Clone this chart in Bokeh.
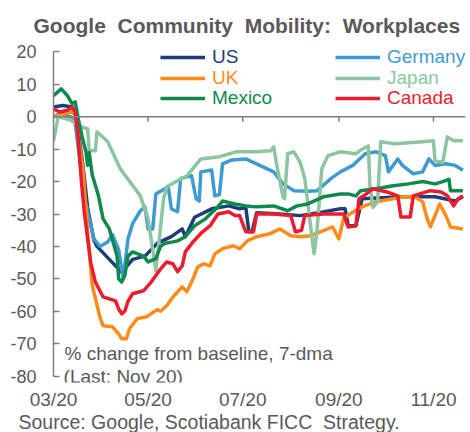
import pandas as pd
from bokeh.plotting import figure
from bokeh.models import Range1d, FixedTicker, DatetimeTickFormatter, Span, Label, Legend, LegendItem, Title
from bokeh.embed import file_html
from bokeh.resources import INLINE

# ---------------- data (7-dma % change) ----------------
us = [("03-01", 3), ("03-07", 3.5), ("03-13", 3), ("03-16", -1), ("03-20", -15), ("03-23", -28),
      ("03-27", -38), ("03-29", -40), ("04-06", -44), ("04-14", -48), ("04-21", -44), ("04-29", -43),
      ("05-07", -39), ("05-16", -37), ("05-23", -34.6), ("05-25", -37), ("05-28", -34), ("05-31", -31),
      ("06-11", -28.4), ("06-22", -27.5), ("06-29", -28.4), ("07-03", -28), ("07-05", -35.5), ("07-07", -35.5),
      ("07-10", -29.6), ("07-25", -30), ("08-07", -30.5), ("08-20", -29.5), ("09-02", -28.4), ("09-05", -28.4),
      ("09-07", -33.6), ("09-12", -33.6), ("09-16", -25.3), ("10-12", -24.7), ("11-02", -24.7), ("11-15", -26),
      ("11-20", -24.7)]

germany = [("03-01", 0), ("03-05", 1), ("03-12", 0), ("03-15", -2), ("03-21", -25), ("03-27", -37.7),
           ("03-31", -40), ("04-05", -38.6), ("04-08", -36.4), ("04-12", -41), ("04-15", -50), ("04-18", -37.7),
           ("04-21", -33), ("04-26", -29), ("04-29", -27.8), ("05-01", -34.6), ("05-04", -34.6), ("05-06", -23.8),
           ("05-14", -21.6), ("05-16", -28.4), ("05-20", -29.3), ("05-22", -19), ("05-29", -18.2), ("06-01", -25.3),
           ("06-03", -26), ("06-04", -17), ("06-11", -16.4), ("06-13", -24.4), ("06-16", -24), ("06-18", -14.5),
           ("06-24", -13.3), ("07-03", -13), ("07-12", -15), ("07-21", -17), ("07-27", -20.7), ("08-03", -22.8),
           ("08-12", -23), ("08-18", -22.8), ("08-27", -19), ("09-02", -17), ("09-10", -15), ("09-18", -11.4),
           ("09-25", -10.8), ("10-01", -12), ("10-03", -17), ("10-09", -13), ("10-12", -15), ("10-19", -17.6),
           ("10-25", -17), ("10-29", -13), ("11-02", -15), ("11-09", -14.5), ("11-15", -15), ("11-20", -16.5)]

uk = [("03-01", 0), ("03-13", 1.5), ("03-15", 0.3), ("03-20", -16), ("03-23", -35.5), ("03-26", -52),
      ("03-29", -58), ("03-31", -62), ("04-02", -64.5), ("04-08", -64.8), ("04-12", -67), ("04-14", -68.5),
      ("04-17", -68.5), ("04-19", -65.4), ("04-24", -62.3), ("04-30", -61.7), ("05-07", -59.5), ("05-09", -60),
      ("05-13", -58.3), ("05-17", -55.6), ("05-23", -52.5), ("05-26", -54), ("05-30", -50), ("06-02", -46.3),
      ("06-06", -45.4), ("06-10", -46), ("06-13", -42.3), ("06-18", -40.7), ("06-25", -39.8), ("06-29", -40.7),
      ("07-04", -38.3), ("07-10", -37), ("07-19", -36), ("07-25", -34.6), ("08-01", -36.7), ("08-07", -37),
      ("08-14", -36.7), ("08-20", -35.5), ("08-28", -34), ("09-01", -37.7), ("09-04", -31.5), ("09-08", -30),
      ("09-16", -27.8), ("09-25", -26.2), ("10-06", -25.3), ("10-12", -24.7), ("10-20", -24.7), ("10-25", -26.2),
      ("10-28", -31.5), ("10-30", -34), ("11-02", -30.5), ("11-05", -26.9), ("11-09", -30.5), ("11-12", -34),
      ("11-20", -34.6)]

japan = [("03-01", -7.5), ("03-04", 0), ("03-12", -1), ("03-18", -3), ("03-23", -3.7), ("03-24", -10.5),
         ("03-28", -10.5), ("03-29", -4.6), ("04-05", -7.7), ("04-13", -16), ("04-26", -24.4), ("05-01", -31.5),
         ("05-06", -47.5), ("05-11", -25.3), ("05-13", -21.6), ("05-26", -18.2), ("06-04", -13), ("06-16", -12.3),
         ("06-27", -10.8), ("07-10", -10.8), ("07-19", -10.5), ("07-21", -9.3), ("07-23", -15), ("07-27", -24.7),
         ("07-28", -25.3), ("07-30", -11.4), ("08-03", -10.8), ("08-07", -14), ("08-10", -19), ("08-14", -34.6),
         ("08-16", -42.3), ("08-18", -34.6), ("08-21", -16), ("08-25", -12), ("09-02", -10.8), ("09-12", -11.4),
         ("09-16", -10), ("09-20", -9), ("09-21", -21), ("09-23", -28), ("09-26", -26.2), ("09-28", -7.7),
         ("10-07", -8.3), ("10-25", -7.7), ("11-01", -7.4), ("11-02", -13.6), ("11-07", -14), ("11-10", -6.2),
         ("11-14", -7.4), ("11-20", -7.4)]

mexico = [("03-01", 6.5), ("03-06", 8.6), ("03-10", 6.5), ("03-13", 4), ("03-15", 4.6), ("03-17", -0.6),
          ("03-19", -5.2), ("03-22", -11), ("03-23", -15), ("03-24", -11), ("03-26", -18), ("03-30", -24.4),
          ("04-02", -31.5), ("04-06", -34.6), ("04-11", -43), ("04-12", -50), ("04-14", -51), ("04-16", -49),
          ("04-18", -43), ("04-21", -41.7), ("04-28", -43), ("05-01", -44.8), ("05-06", -43.8), ("05-09", -40),
          ("05-12", -39), ("05-17", -38.6), ("05-20", -38.3), ("05-25", -37), ("05-31", -33.6), ("06-07", -31.5),
          ("06-15", -27.8), ("06-18", -26), ("06-26", -26.9), ("07-03", -27.5), ("07-10", -27.8), ("07-21", -27.5),
          ("07-30", -29), ("08-05", -27.5), ("08-12", -26.9), ("08-22", -24.7), ("09-02", -23.8), ("09-07", -23.8),
          ("09-12", -24.4), ("09-15", -22.8), ("09-25", -22.2), ("10-06", -21.3), ("10-16", -20.7), ("10-25", -20),
          ("11-02", -20.7), ("11-07", -20), ("11-11", -19.3), ("11-12", -22.8), ("11-20", -22.8)]

canada = [("03-01", 2.5), ("03-05", 1.5), ("03-10", 2), ("03-13", 3), ("03-15", 1.5), ("03-17", -6.8),
          ("03-19", -20), ("03-21", -30), ("03-25", -45), ("03-28", -51), ("04-02", -55.6), ("04-10", -56.8),
          ("04-12", -59.3), ("04-14", -60.8), ("04-16", -60), ("04-18", -57), ("04-21", -54.6), ("04-28", -53.7),
          ("05-03", -51), ("05-09", -47), ("05-13", -44.8), ("05-17", -45.4), ("05-20", -47.8), ("05-23", -46),
          ("05-25", -41.7), ("05-30", -38.6), ("06-04", -36), ("06-10", -33.6), ("06-15", -30), ("06-22", -29.3),
          ("06-26", -30.5), ("06-29", -30.5), ("07-03", -35.5), ("07-08", -35.5), ("07-10", -30), ("07-21", -30),
          ("08-01", -30.5), ("08-04", -35.5), ("08-08", -35), ("08-10", -30.5), ("08-22", -30), ("09-04", -30),
          ("09-07", -34), ("09-12", -33.6), ("09-14", -25.3), ("09-17", -24.4), ("09-23", -22.2), ("10-02", -23.2),
          ("10-09", -24.4), ("10-11", -30.9), ("10-17", -30.9), ("10-19", -24.4), ("10-30", -22.8), ("11-06", -23.2),
          ("11-10", -24.4), ("11-14", -27.5), ("11-17", -25.3), ("11-20", -24.4)]

series_names = ["US", "Germany", "UK", "Japan", "Mexico", "Canada"]
series_data = [us, germany, uk, japan, mexico, canada]
series_colors = ["#1F3E78", "#3F9AD1", "#FF8C1A", "#8CC6A0", "#0F8A4F", "#EC1C2E"]

y_ticks = [-80, -70, -60, -50, -40, -30, -20, -10, 0, 10, 20]
y_tick_labels = ["-80", "-70", "-60", "-50", "-40", "-30", "-20", "-10", "0", "10", "20"]
x_tick_dates = ["2020-03-01", "2020-05-01", "2020-07-01", "2020-09-01", "2020-11-01"]

NB = "\u00a0 "  # double word gap as in the original
TITLE = "Google" + NB + "Community" + NB + "Mobility:" + NB + "Workplaces"
NOTE_1 = "% change from baseline, 7-dma"
NOTE_2 = "(Last: Nov 20)"
SOURCE = "Source: Google, Scotiabank FICC" + NB + "Strategy."

# ---------------- helpers ----------------
DAY = 86400000.0


def ms(s):
    return pd.Timestamp(s).value / 1e6


x_start = ms("2020-03-01")
x_end = ms("2020-11-21") + 16 * 3600 * 1000

GRAY = "#7F7F7F"
TXT = "#595959"
FONT = "Liberation Sans"

p = figure(width=470, height=432, x_axis_type="datetime",
           x_range=Range1d(x_start, x_end), y_range=Range1d(-82, 22),
           output_backend="svg", toolbar_location=None,
           min_border_left=53, min_border_right=5, min_border_top=45, min_border_bottom=50)
p.xgrid.visible = False
p.ygrid.visible = False
p.outline_line_color = None
p.background_fill_color = "white"
p.border_fill_color = "white"

# y axis
ya = p.yaxis[0]
ya.ticker = FixedTicker(ticks=y_ticks)
ya.major_label_overrides = {t: s for t, s in zip(y_ticks, y_tick_labels)}
ya.bounds = (y_ticks[0], y_ticks[-1])
ya.axis_line_color = GRAY
ya.axis_line_width = 1.5
ya.major_tick_line_color = GRAY
ya.major_tick_line_width = 1.5
ya.major_tick_in = 6
ya.major_tick_out = 0
ya.minor_tick_line_color = None
ya.major_label_text_font_size = "18px"
ya.major_label_text_color = TXT
ya.major_label_text_font = FONT
ya.major_label_standoff = 17

# x axis (labels only; the line is drawn at y = 0)
xa = p.xaxis[0]
xa.ticker = FixedTicker(ticks=[ms(d) for d in x_tick_dates])
fmt = "%m/%y"
xa.formatter = DatetimeTickFormatter(milliseconds=fmt, seconds=fmt, minsec=fmt, minutes=fmt, hourmin=fmt,
                                     hours=fmt, days=fmt, months=fmt, years=fmt)
xa.axis_line_color = None
xa.major_tick_line_color = None
xa.minor_tick_line_color = None
xa.major_tick_in = 0
xa.major_tick_out = 0
xa.major_label_text_font_size = "19px"
xa.major_label_text_color = TXT
xa.major_label_text_font = FONT
xa.major_label_standoff = 6

p.add_layout(Span(location=0, dimension="width", line_color=GRAY, line_width=1.5))
tick_len = 5 * 100 / 324.0
xt = [ms(d) for d in x_tick_dates[1:]]
p.segment(x0=xt, y0=[0] * len(xt), x1=xt, y1=[-tick_len] * len(xt), line_color=GRAY, line_width=1.5)

renderers = []
for name, data, col in zip(series_names, series_data, series_colors):
    xs = [ms("2020-" + d) for d, _ in data]
    ys = [v for _, v in data]
    r = p.line(xs, ys, line_color=col, line_width=3.5, line_join="round")
    renderers.append(r)

# legend: two columns, three rows
leg_pos = [(107, 314), (282, 314), (107, 293), (282, 293), (107, 273), (282, 273)]
for name, r, col, pos in zip(series_names, renderers, series_colors, leg_pos):
    leg = Legend(items=[LegendItem(label=name, renderers=[r])], location=pos,
                 label_text_color=col, label_text_font_size="19px", label_text_font=FONT,
                 glyph_width=45, glyph_height=20, label_height=20, label_standoff=7,
                 padding=0, margin=0, spacing=0, border_line_color=None, background_fill_alpha=0)
    p.add_layout(leg)

# texts
p.add_layout(Title(text=TITLE, align="left", offset=-20, text_font_size="21px", text_font_style="bold",
                   text_color=TXT, text_font=FONT, standoff=18), "above")
p.add_layout(Title(text=SOURCE, align="left", offset=-35, text_font_size="19.5px", text_font_style="normal",
                   text_color=TXT, text_font=FONT, standoff=-8), "below")
p.add_layout(Label(x=x_start + 7.1 * DAY, y=-73.2, text=NOTE_1, text_baseline="alphabetic",
                   text_font_size="19px", text_color=TXT, text_font=FONT))
p.add_layout(Label(x=x_start + 6.5 * DAY, y=-80.3, text=NOTE_2, text_baseline="alphabetic",
                   text_font_size="19px", text_color=TXT, text_font=FONT))

open("out.html", "w").write(file_html(p, INLINE))
